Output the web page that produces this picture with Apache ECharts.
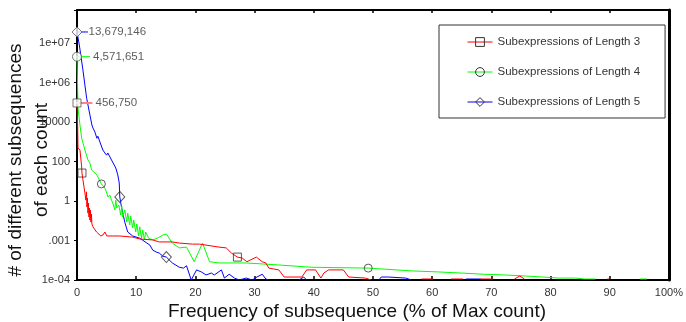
<!DOCTYPE html>
<html><head><meta charset="utf-8">
<script src="https://cdn.jsdelivr.net/npm/echarts@6/dist/echarts.min.js"></script>
<style>html,body{margin:0;padding:0;background:#fff}#c{width:686px;height:322px}</style>
</head><body><div id="c"></div><script>
const seriesNames = ['Subexpressions of Length 3', 'Subexpressions of Length 4', 'Subexpressions of Length 5'];
const xTickLabels = ['0','10','20','30','40','50','60','70','80','90','100%'];
const yTickValues = [1e-4, 1e-3, 1, 100, 1e4, 1e6, 1e7];
const yTickLabels = ['1e-04', '.001', '1', '100', '10000', '1e+06', '1e+07'];

// [x (% of max count), number of subsequences]; null = gap
const len3 = [
 [0, 9.2e4],[0.12, 5.0e3],[0.17, 480],[0.5, 380],[0.79, 53],[0.84, 26],[1.0, 12],[1.34, 2.5],
 [1.5, 1.1],[1.6, 2.9],[1.68, 0.35],[1.76, 1.4],[1.85, 0.12],[1.93, 0.7],[2.02, 0.061],[2.1, 0.29],
 [2.18, 0.036],[2.27, 0.2],[2.35, 0.025],[2.44, 0.1],[2.52, 0.018],[2.69, 0.011],[3.31, 0.0044],
 [3.53, 0.0053],[4.03, 0.0022],[4.37, 0.0026],[4.71, 0.0044],[5.04, 0.0022],[6.05, 0.0022],
 [7.23, 0.0022],[9.41, 0.0018],[10.6, 0.0013],[12.8, 0.0011],[13.9, 0.00092],[16.1, 0.00092],
 [17.3, 0.00086],[19.5, 0.00081],[20.7, 0.00081],[24.0, 0.00068],[25.2, 0.00065],[26.1, 0.00048],
 [27.1, 0.00038],[27.9, 0.00036],[28.7, 0.00029],[30.3, 0.00038],[31.3, 0.00029],[31.9, 0.00027],
 [32.4, 0.0002],[34.1, 0.00018],[35.0, 0.000119],[38.0, 0.000119],[38.8, 0.00018],[40.3, 0.00018],
 [41.2, 0.000112],[41.7, 0.00015],[42.5, 0.00018],[45.0, 0.00018],[45.9, 0.000119],[48.7, 0.000112],
 [49.7, 0.0001],[54, null],[58.2, 0.000106],[60.2, 0.000106],[62, null],[63.2, 0.000106],[65.2, 0.000106],
 [67, null],[68.1, 0.000106],[70.3, 0.000106],[72, null],[73.9, 0.000106],[74.8, 0.000126],[75.6, 0.000106],
 [80, null],[89.6, 0.000106],[89.9, 0.000106]
];
const len4 = [
 [0, 4.5e6],[0.17, 5.1e4],[0.5, 7.0e3],[0.79, 1.5e3],[1.34, 380],[1.85, 120],[2.18, 84],[2.47, 37],
 [3.36, 21],[4.12, 7.3],[4.71, 4.5],[5.04, 2.5],[5.21, 1.6],[5.55, 2.0],[5.83, 1.1],[6.05, 0.7],
 [6.39, 0.21],[6.55, 1.1],[6.72, 0.29],[7.06, 0.5],[7.39, 0.086],[7.56, 0.4],[7.73, 0.061],[8.07, 0.21],
 [8.4, 0.025],[8.57, 0.12],[8.91, 0.015],[9.08, 0.07],[9.41, 0.0089],[9.58, 0.036],[9.92, 0.0044],
 [10.1, 0.018],[10.4, 0.0022],[10.6, 0.011],[10.9, 0.0015],[11.1, 0.0063],[11.4, 0.0011],[11.6, 0.0044],
 [12.1, 0.0015],[12.8, 0.0011],[13.6, 0.0015],[14.5, 0.0026],[15.1, 0.0031],[16.1, 0.00086],
 [17.3, 0.00065],[18.5, 0.00068],[19.8, 0.00029],[21.2, 0.00086],[22.4, 0.00029],[24.0, 0.00027],
 [28.6, 0.00027],[34.1, 0.00024],[39.7, 0.00021],[49.2, 0.0002],[56.5, 0.00017],[61.0, 0.00016],
 [64.9, 0.00015],[68.6, 0.00014],[72.3, 0.000134],[75.8, 0.000126],[78.7, 0.000119],[81.2, 0.000112],
 [84.2, 0.000112],[85.7, 0.000106],[87.6, 0.000106],[91, null],[95.1, 0.000106],[96.3, 0.000106]
];
const len5 = [
 [0, 1.9e7],[0.39, 8.9e6],[0.96, 2.3e6],[1.63, 1.6e5],[2.18, 2.3e4],[2.52, 7e3],[2.69, 5e3],[2.86, 6e3],
 [3.03, 3.1e3],[3.19, 3.6e3],[3.36, 1.5e3],[3.53, 1.9e3],[3.87, 970],[4.37, 380],[4.71, 270],[5.0, 210],
 [5.21, 270],[5.83, 120],[6.55, 47],[6.89, 21],[7.14, 8.1],[7.23, 1.6],[7.51, 0.35],[8.07, 0.025],
 [8.57, 0.0044],[9.41, 0.0022],[10.6, 0.0015],[11.8, 0.00086],[12.3, 0.00077],[12.8, 0.00057],
 [13.4, 0.00051],[13.9, 0.00048],[14.5, 0.0004],[15.1, 0.00038],[16.1, 0.00027],[17.3, 0.00021],
 [18.0, 0.0002],[18.5, 0.00023],[19.3, 0.0001],[20.2, 0.00018],[21.0, 0.00016],[21.8, 0.000134],
 [22.7, 0.00015],[23.2, 0.000134],[24.4, 0.00018],[24.9, 0.000112],[25.7, 0.00014],[26.6, 0.000112],
 [27.4, 0.0001],[28.6, 0.000112],[29.6, 0.0001],[30.4, 0.000119],[31.3, 0.00014],[31.9, 0.000106],
 [32.4, 0.0001],[35, null],[37.5, 0.0001],[38.3, 0.000119],[38.8, 0.0001],[45, null],[51.0, 0.0001],
 [51.4, 0.000119],[52.6, 0.000119],[55.5, 0.000112],[56.5, 0.0001],[60, null],[65.7, 0.000106],[68.2, 0.000106]
];
const len3MarkX = [0.84, 27.1];
const len4MarkX = [4.12, 49.2];
const len5MarkX = [7.23, 15.1];
const peakLabels = ['456,750', '4,571,651', '13,679,146'];
const peakValues = [9.2e4, 4.5e6, 1.9e7];

const FONT = "'Liberation Sans', Arial, sans-serif";
const tickLogs = yTickValues.map(Math.log10);
function toLevel(v) {
  const lg = Math.log10(v);
  let i = 0;
  while (i < tickLogs.length - 2 && lg > tickLogs[i + 1]) i++;
  return i + (lg - tickLogs[i]) / (tickLogs[i + 1] - tickLogs[i]);
}
function prep(d) { return d.map(p => p[1] == null ? [p[0], '-'] : [p[0], toLevel(p[1])]); }

const allData = [len3, len4, len5];
const allMarks = [len3MarkX, len4MarkX, len5MarkX];
const colors = ['#ff0000', '#00ff00', '#0000ff'];
const peakLineColors = ['#ff8080', '#00ff00', '#0000ff'];
const peakLineWidth = [2, 1, 1];
const peakLineEnd = [2.6, 2.2, 1.85];
const peakLineStart = -2.35;
const symbols = ['rect', 'circle', 'diamond'];
const symSizes = [8, 8, [10, 11]];
const peakSymSizes = [8, 9, [10, 10]];
const peakLabelDist = [14, 11, 6];
const markStyle = {color: 'rgba(255,255,255,0)', borderColor: '#333', borderWidth: 1};

const series = [];
allData.forEach((d, i) => {
  series.push({
    type: 'line', name: seriesNames[i], data: prep(d), showSymbol: false,
    symbol: symbols[i], symbolSize: symSizes[i], connectNulls: false,
    lineStyle: {color: colors[i], width: 1}, itemStyle: markStyle, z: 2 + (2 - i) * 0.01
  });
});
allData.forEach((d, i) => {
  series.push({
    type: 'scatter', name: seriesNames[i],
    data: prep(d.filter(p => allMarks[i].includes(p[0]))),
    symbol: symbols[i], symbolSize: symSizes[i], itemStyle: markStyle, z: 4
  });
});
peakValues.forEach((v, i) => {
  const lvl = toLevel(v);
  series.push({
    type: 'line', data: [[peakLineStart, lvl], [peakLineEnd[i], lvl]], clip: false, symbol: 'none',
    lineStyle: {color: peakLineColors[i], width: peakLineWidth[i]}, z: 3, silent: true
  });
  series.push({
    type: 'scatter', data: [[0, lvl]], clip: false, symbol: symbols[i], symbolSize: peakSymSizes[i],
    itemStyle: {color: '#fff', borderColor: '#555', borderWidth: 1}, z: 5, silent: true,
    label: {show: true, position: 'right', distance: peakLabelDist[i], formatter: peakLabels[i],
      color: '#333', fontSize: 11.5, fontFamily: FONT}
  });
});

const yMax = 6.835;
const chart = echarts.init(document.getElementById('c'), null, {renderer: 'canvas'});
chart.setOption({
  animation: false,
  backgroundColor: '#fff',
  grid: {left: 77, right: 14, top: 10, bottom: 42},
  legend: {
    orient: 'vertical', left: 439, top: 25, padding: [11, 25, 10, 28], itemGap: 18,
    itemWidth: 25, itemHeight: 11, borderColor: '#333', borderWidth: 1, backgroundColor: '#fff',
    textStyle: {fontSize: 11.5, color: '#333', fontFamily: FONT},
    data: seriesNames.map((n, i) => ({name: n, lineStyle: {color: colors[i], width: 1}, itemStyle: markStyle}))
  },
  xAxis: [{
    type: 'value', min: 0, max: 100, interval: 10, position: 'bottom',
    axisLine: {show: true, onZero: false, lineStyle: {color: '#000', width: 2}},
    axisTick: {show: true, inside: true, length: 4, lineStyle: {color: '#000', width: 1.5}},
    axisLabel: {formatter: v => xTickLabels[Math.round(v / 10)] || '', color: '#333', fontSize: 11, margin: 7, fontFamily: FONT},
    splitLine: {show: false}
  }, {
    type: 'value', min: 0, max: 100, interval: 10, position: 'top',
    axisLine: {show: true, onZero: false, lineStyle: {color: '#000', width: 2}},
    axisTick: {show: true, inside: true, length: 3, lineStyle: {color: '#000', width: 1.5}},
    axisLabel: {show: false}, splitLine: {show: false}
  }],
  yAxis: [{
    type: 'value', min: 0, max: yMax, interval: 1,
    axisLine: {show: true, onZero: false, lineStyle: {color: '#000', width: 2}},
    axisTick: {show: true, length: 3, lineStyle: {color: '#000'}},
    axisLabel: {formatter: v => (Math.abs(v - Math.round(v)) < 1e-6 && yTickLabels[Math.round(v)]) || '',
      color: '#333', fontSize: 11, margin: 7, fontFamily: FONT},
    splitLine: {show: false}
  }, {
    type: 'value', min: 0, max: yMax, interval: 1, position: 'right',
    axisLine: {show: true, onZero: false, lineStyle: {color: '#000', width: 3}},
    axisTick: {show: false}, axisLabel: {show: false}, splitLine: {show: false}
  }],
  series: series,
  graphic: [{
    type: 'text', x: 29, y: 160, rotation: Math.PI / 2,
    style: {text: '# of different subsequences\nof each count', fontSize: 19, fontFamily: FONT, fill: '#111',
      align: 'center', verticalAlign: 'middle', textAlign: 'center', textVerticalAlign: 'middle', lineHeight: 26}
  }, {
    type: 'text', x: 357, y: 312,
    style: {text: 'Frequency of subsequence (% of Max count)', fontSize: 19, fontFamily: FONT, fill: '#111',
      align: 'center', verticalAlign: 'middle', textAlign: 'center', textVerticalAlign: 'middle'}
  }]
});
</script></body></html>
